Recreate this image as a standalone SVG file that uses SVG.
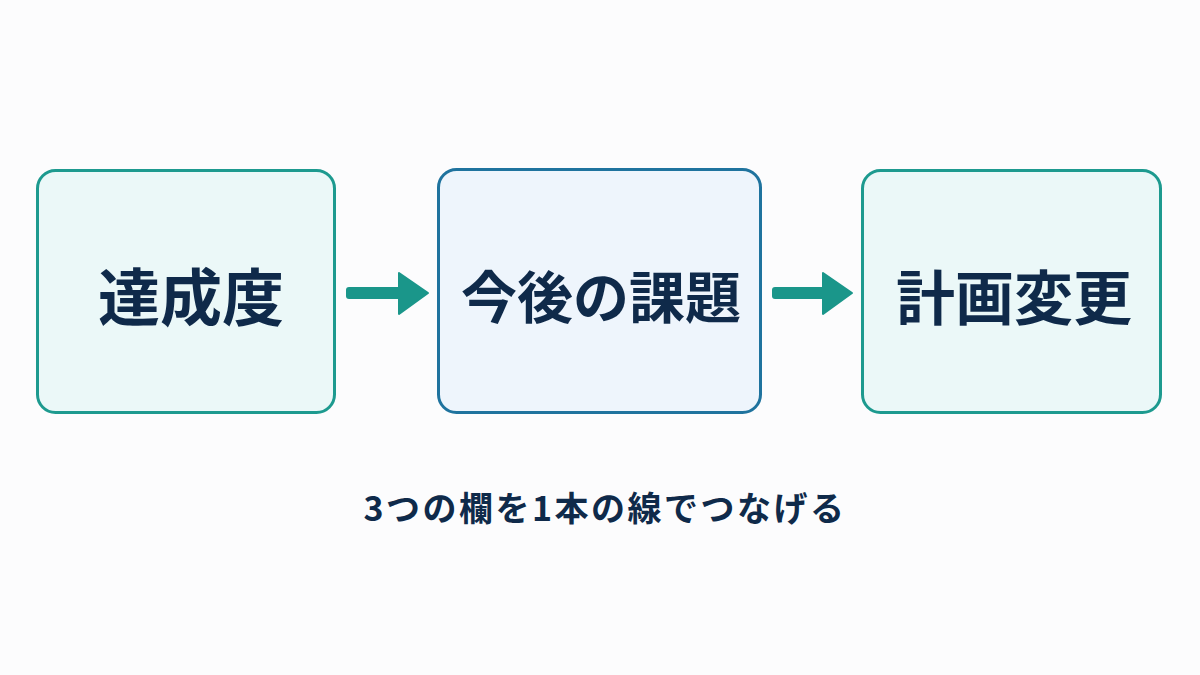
<svg xmlns="http://www.w3.org/2000/svg" width="1200" height="675" viewBox="0 0 1200 675">
<style>
.box{stroke-width:3}
.teal{fill:#ebf8f8;stroke:#1d9a8f}
.blue{fill:#eef5fc;stroke:#1f739e}
.lbl{font-family:"Noto Sans CJK JP","Noto Sans",sans-serif;font-weight:700;fill:#0f2a4a;text-anchor:middle}
.arr{fill:#1a968a}
</style>
<rect width="1200" height="675" fill="#fcfcfd"/>
<g id="connectors">
<g class="arr">
<rect x="346" y="287" width="56" height="12" rx="3"/>
<path d="M399 273 L428 293 L399 314 Z" stroke="#1a968a" stroke-width="2" stroke-linejoin="round"/>
<rect x="772" y="287" width="54" height="12" rx="3"/>
<path d="M823 273 L852 293 L823 314 Z" stroke="#1a968a" stroke-width="2" stroke-linejoin="round"/>
</g>
</g>
<g id="node1">
<rect class="box teal" x="37.5" y="170.5" width="297" height="242" rx="18"/>
<text class="lbl" x="191" y="321" font-size="62">達成度</text>
</g>
<g id="node2">
<rect class="box blue" x="438.5" y="169.5" width="322" height="243" rx="18"/>
<text class="lbl" x="601" y="318" font-size="56">今後の課題</text>
</g>
<g id="node3">
<rect class="box teal" x="862.5" y="170.5" width="298" height="242" rx="18"/>
<text class="lbl" x="1014" y="320" font-size="59">計画変更</text>
</g>
<g id="caption">
<text class="lbl" x="605" y="521" font-size="34" letter-spacing="2.5">3つの欄を1本の線でつなげる</text>
</g>
</svg>
